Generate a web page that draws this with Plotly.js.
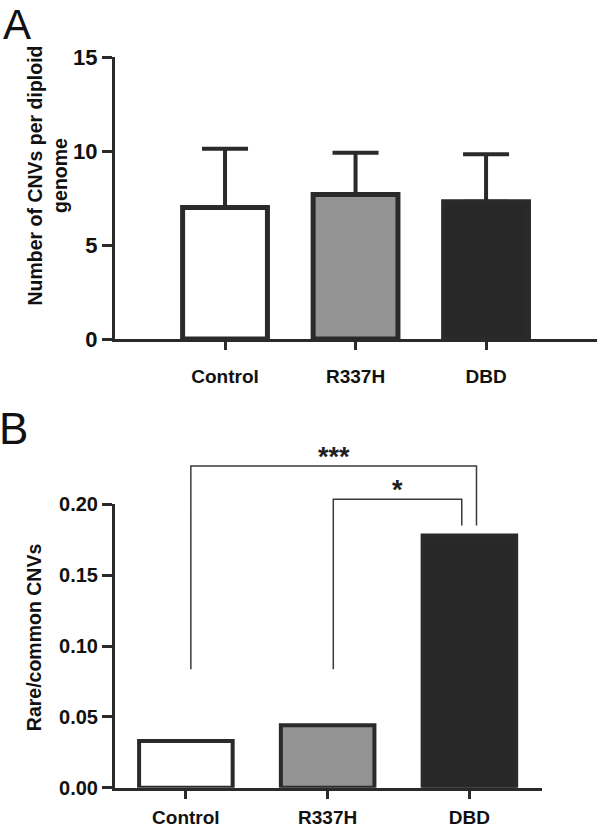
<!DOCTYPE html>
<html>
<head>
<meta charset="utf-8">
<script src="https://cdn.plot.ly/plotly-3.0.1.min.js"></script>
<style>html,body{margin:0;padding:0;background:#fff;}#chart{width:600px;height:827px;}</style>
</head>
<body>
<div id="chart"></div>
<script>
// ---- Data ----
const categories = ['Control', 'R337H', 'DBD'];
const cnvPerGenome = [7.0, 7.68, 7.3];
const cnvPerGenomeErr = [3.12, 2.23, 2.53];
const rareCommonRatio = [0.033, 0.044, 0.178];
const yTicksA = [0, 5, 10, 15];
const yTicksB = [0, 0.05, 0.10, 0.15, 0.20];
const yTickTextB = ['0.00', '0.05', '0.10', '0.15', '0.20'];
const sigLabels = ['***', '*'];
const sigFrom = [0, 1];
const sigTo = [2, 2];
const sigLevel = [0.227, 0.2036];

// ---- Styling / geometry ----
const W = 600, H = 827;
const py = p => 1 - p / H;
const FONT = 'Liberation Sans, Arial, Helvetica, sans-serif';
const INK = '#2a2a2a';
const TXT = '#111111';
const barFill = ['#ffffff', '#939393', '#282828'];
const legLeftOff = [0.035, 0.04];
const legRightOff = [0.05, -0.054];
const legLeftBottom = 0.0836;
const legRightBottom = 0.185;

const yUnitB = 1416.7; // px per unit in panel B
const yTopB3 = (787.7 - 440) / yUnitB;

const traces = [
  {
    type: 'bar', x: categories, y: cnvPerGenome, xaxis: 'x', yaxis: 'y',
    width: 0.65,
    marker: {color: barFill, line: {color: INK, width: 5}},
    error_y: {type: 'data', symmetric: false, array: cnvPerGenomeErr,
              arrayminus: cnvPerGenomeErr.map(() => 0),
              thickness: 4, width: 23, color: INK},
    hoverinfo: 'x+y'
  },
  {
    type: 'bar', x: categories, y: rareCommonRatio, xaxis: 'x2', yaxis: 'y2',
    width: 0.66,
    marker: {color: barFill, line: {color: INK, width: 4}},
    hoverinfo: 'x+y'
  }
];

const annotations = [];
sigLabels.forEach((lab, i) => {
  const xl = sigFrom[i] + legLeftOff[i];
  const xr = sigTo[i] + legRightOff[i];
  traces.push({
    type: 'scatter', mode: 'lines', xaxis: 'x3', yaxis: 'y3',
    x: [xl, xl, xr, xr],
    y: [legLeftBottom, sigLevel[i], sigLevel[i], legRightBottom],
    line: {color: '#3a3a3a', width: 1.5},
    hoverinfo: 'skip', showlegend: false
  });
  annotations.push({
    xref: 'x3', yref: 'y3', x: (xl + xr) / 2, y: sigLevel[i] + 0.0065,
    text: lab, showarrow: false, xanchor: 'center', yanchor: 'middle',
    font: {family: FONT, size: 27, color: '#1e1e1e', weight: 'bold'}
  });
});

annotations.push(
  {xref: 'paper', yref: 'paper', x: 16.5 / W, y: 1, text: 'A', showarrow: false, borderpad: 0,
   xanchor: 'center', yanchor: 'top', font: {family: FONT, size: 42, color: TXT}},
  {xref: 'paper', yref: 'paper', x: 13.5 / W, y: py(428.5), text: 'B', showarrow: false,
   xanchor: 'center', yanchor: 'middle', font: {family: FONT, size: 44, color: TXT}},
  {xref: 'paper', yref: 'paper', x: 46.5 / W, y: py(176), text: 'Number of CNVs per diploid<br>genome',
   showarrow: false, textangle: -90, xanchor: 'center', yanchor: 'middle',
   font: {family: FONT, size: 19.5, color: TXT, weight: 'bold'}},
  {xref: 'paper', yref: 'paper', x: 33.5 / W, y: py(637.7), text: 'Rare/common CNVs',
   showarrow: false, textangle: -90, xanchor: 'center', yanchor: 'middle',
   font: {family: FONT, size: 19.5, color: TXT, weight: 'bold'}}
);

const xBase = {
  type: 'category', showline: true, linewidth: 3, linecolor: INK,
  ticks: 'outside', ticklen: 8, tickwidth: 3, tickcolor: INK,
  tickfont: {family: FONT, size: 19, color: TXT, weight: 'bold'},
  showgrid: false, zeroline: false, fixedrange: true
};
const yBase = {
  showline: true, linewidth: 3, linecolor: INK,
  ticks: 'outside', ticklen: 10, tickwidth: 3, tickcolor: INK,
  showgrid: false, zeroline: false, fixedrange: true
};

const layout = {
  width: W, height: H,
  margin: {l: 0, r: 0, t: 0, b: 0},
  paper_bgcolor: '#ffffff', plot_bgcolor: 'rgba(0,0,0,0)',
  showlegend: false, bargap: 0.3,
  xaxis: Object.assign({}, xBase, {domain: [115 / W, 597 / W], range: [-0.843, 2.85], anchor: 'y', ticklabelstandoff: 10}),
  yaxis: Object.assign({}, yBase, {domain: [py(339), py(57)], range: [0, 15], anchor: 'x',
    tickvals: yTicksA, ticktext: yTicksA.map(String),
    tickfont: {family: FONT, size: 22, color: TXT, weight: 'bold'}}),
  xaxis2: Object.assign({}, xBase, {domain: [115 / W, 541.7 / W], range: [-0.5, 2.51], anchor: 'y2', ticklabelstandoff: 2}),
  yaxis2: Object.assign({}, yBase, {domain: [py(787.7), py(504.3)], range: [0, 0.2], anchor: 'x2',
    tickvals: yTicksB, ticktext: yTickTextB,
    tickfont: {family: FONT, size: 20, color: TXT, weight: 'bold'}}),
  xaxis3: {domain: [115 / W, 541.7 / W], range: [-0.5, 2.51], anchor: 'y3', visible: false, fixedrange: true},
  yaxis3: {domain: [py(787.7), py(440)], range: [0, yTopB3], anchor: 'x3', visible: false, fixedrange: true},
  annotations: annotations
};

Plotly.newPlot('chart', traces, layout, {displayModeBar: false, staticPlot: true});
</script>
</body>
</html>
